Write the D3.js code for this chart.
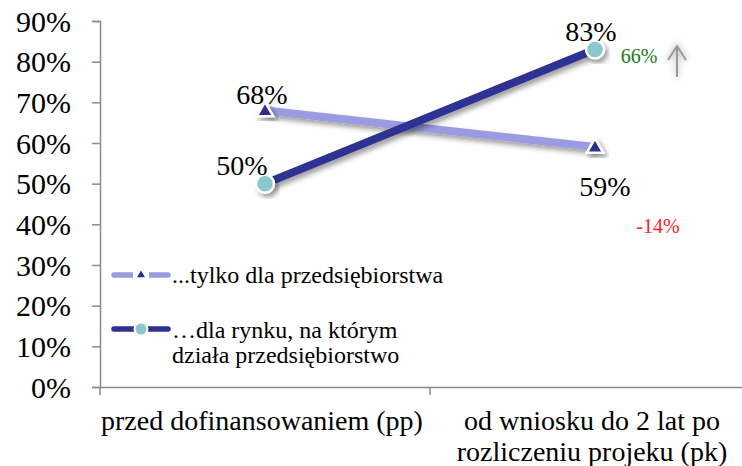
<!DOCTYPE html>
<html>
<head>
<meta charset="utf-8">
<script src="https://cdn.jsdelivr.net/npm/d3@7/dist/d3.min.js"></script>
<style>
  html, body { margin: 0; padding: 0; background: #fff; }
  svg text { font-family: "Liberation Serif", "Times New Roman", serif; }
</style>
</head>
<body>
<svg id="chart" width="742" height="466"></svg>
<script>
// Categories (two measurement periods)
const categories = ["przed dofinansowaniem (pp)", "od wniosku do 2 lat po rozliczeniu projeku (pk)"];
const categoryLines = [["przed dofinansowaniem (pp)"], ["od wniosku do 2 lat po", "rozliczeniu projeku (pk)"]];

// Series values (%)
const onlyCompany = [68, 59];   // ...tylko dla przedsiębiorstwa
const forMarket = [50, 83];     // …dla rynku, na którym działa przedsiębiorstwo

// Legend labels
const legendLabels = [["...tylko dla przedsiębiorstwa"], ["…dla rynku, na którym", "działa przedsiębiorstwo"]];

// Y ticks
const yTicks = [0, 10, 20, 30, 40, 50, 60, 70, 80, 90];

// Change annotations
const changeLabels = ["66%", "-14%"];

const SERIF = "Liberation Serif";
const svg = d3.select("#chart");
const margin = { left: 100, top: 21, bottom: 79 };
const W = 742, H = 466;
const y = d3.scaleLinear().domain([0, 90]).range([H - margin.bottom, margin.top]);
const x = d3.scaleBand().domain(categories).range([margin.left, 760]);

const defs = svg.append("defs");
const sh = defs.append("filter").attr("id", "shadow").attr("x", "-30%").attr("y", "-30%").attr("width", "160%").attr("height", "160%");
sh.append("feDropShadow").attr("dx", 3).attr("dy", 3.5).attr("stdDeviation", 2.5).attr("flood-color", "#000").attr("flood-opacity", 0.38);
const haze = defs.append("filter").attr("id", "haze").attr("x", "-100%").attr("y", "-50%").attr("width", "300%").attr("height", "200%");
haze.append("feGaussianBlur").attr("stdDeviation", 3);

// Y axis
const yAxis = svg.append("g").attr("transform", `translate(${margin.left},0)`)
  .call(d3.axisLeft(y).tickValues(yTicks).tickFormat(d => d + "%").tickSize(8).tickPadding(21));
yAxis.attr("font-family", SERIF);
yAxis.select(".domain").attr("stroke", "#8c8c8c").attr("stroke-width", 1.5);
yAxis.selectAll(".tick line").attr("stroke", "#8c8c8c").attr("stroke-width", 1.5);
yAxis.selectAll(".tick text").attr("fill", "#000").attr("font-size", 30).attr("font-family", SERIF).attr("dy", "0.34em");

// X axis
const xAxis = svg.append("g").attr("transform", `translate(0,${y(0)})`)
  .call(d3.axisBottom(x).tickValues([]).tickSizeOuter(0));
xAxis.select(".domain").attr("stroke", "#8c8c8c").attr("stroke-width", 1.5);
// Band boundary ticks
xAxis.selectAll(".bt").data([x(categories[0]), x(categories[1])]).enter().append("line")
  .attr("x1", d => d).attr("x2", d => d).attr("y1", 0).attr("y2", 8)
  .attr("stroke", "#8c8c8c").attr("stroke-width", 1.5);

// Category labels
categories.forEach((c, i) => {
  const mx = x(c) + x.bandwidth() / 2 - 3;
  const t = svg.append("text").attr("x", mx).attr("y", 430)
    .attr("text-anchor", "middle").attr("font-size", 28).attr("font-family", SERIF).attr("fill", "#000");
  categoryLines[i].forEach((ln, j) => t.append("tspan").attr("x", mx).attr("dy", j ? 31 : 0).text(ln));
});

const cx = c => x(c) + x.bandwidth() / 2;
const line = d3.line().x((d, i) => cx(categories[i])).y(d => y(d));

// Series lines
svg.append("path").datum(onlyCompany).attr("d", line).attr("fill", "none")
  .attr("stroke", "#9b9be0").attr("stroke-width", 8).attr("filter", "url(#shadow)");
svg.append("path").datum(forMarket).attr("d", line).attr("fill", "none")
  .attr("stroke", "#2e3192").attr("stroke-width", 8).attr("filter", "url(#shadow)");

// Markers
const tri = d3.symbol().type(d3.symbolTriangle).size(120);
svg.selectAll(".tri").data(onlyCompany).enter().append("path")
  .attr("d", tri).attr("transform", (d, i) => `translate(${cx(categories[i])},${y(d) + 1})`)
  .attr("fill", "#2e2e8c").attr("stroke", "#fff").attr("stroke-width", 2.5).attr("filter", "url(#shadow)");
svg.selectAll(".dot").data(forMarket).enter().append("circle")
  .attr("cx", (d, i) => cx(categories[i])).attr("cy", d => y(d)).attr("r", 9)
  .attr("fill", "#8bc7cf").attr("stroke", "#fff").attr("stroke-width", 2.5).attr("filter", "url(#shadow)");

// Value labels
const valLabel = (v, i, dx, dyy) => svg.append("text")
  .attr("x", cx(categories[i]) + dx).attr("y", y(v) + dyy)
  .attr("text-anchor", "middle").attr("font-size", 28).attr("font-family", SERIF).attr("fill", "#000").text(v + "%");
valLabel(onlyCompany[0], 0, -3, -6);
valLabel(onlyCompany[1], 1, 10, 49);
valLabel(forMarket[0], 0, -23, -9);
valLabel(forMarket[1], 1, -4, -8);

// Change annotations
svg.append("text").attr("x", 639).attr("y", 63).attr("text-anchor", "middle")
  .attr("font-size", 20).attr("font-family", SERIF).attr("fill", "#1a7a1a").text(changeLabels[0]);
svg.append("text").attr("x", 658).attr("y", 233).attr("text-anchor", "middle")
  .attr("font-size", 20).attr("font-family", SERIF).attr("fill", "#ff2020").text(changeLabels[1]);

// Upward arrow with soft halo
const arrow = svg.append("g");
arrow.append("path").attr("d", "M677,77 L677,46 M668,60 L677,46 L686,60")
  .attr("fill", "none").attr("stroke", "#bbb").attr("stroke-width", 5).attr("filter", "url(#haze)").attr("opacity", 0.6);
arrow.append("path").attr("d", "M677,77 L677,46 M668,60 L677,46 L686,60")
  .attr("fill", "none").attr("stroke", "#9a9a9a").attr("stroke-width", 2);

// Legend
const legend = svg.append("g");
const legendRows = [
  { y: 275, color: "#9b9be0", marker: "tri", ty: 283 },
  { y: 329, color: "#2e3192", marker: "dot", ty: 338 }
];
legendRows.forEach((r, i) => {
  legend.append("line").attr("x1", 114).attr("x2", 168).attr("y1", r.y).attr("y2", r.y)
    .attr("stroke", r.color).attr("stroke-width", 5.5).attr("stroke-linecap", "round");
  if (r.marker === "tri") {
    legend.append("rect").attr("x", 133).attr("y", r.y - 4).attr("width", 16).attr("height", 8).attr("fill", "#fff");
    legend.append("path").attr("d", d3.symbol().type(d3.symbolTriangle).size(50)).attr("transform", `translate(141,${r.y})`)
      .attr("fill", "#2e2e8c").attr("stroke", "#fff").attr("stroke-width", 1.5);
  } else {
    legend.append("circle").attr("cx", 141).attr("cy", r.y).attr("r", 6.5)
      .attr("fill", "#8bc7cf").attr("stroke", "#fff").attr("stroke-width", 2);
  }
  const t = legend.append("text").attr("x", 172).attr("y", r.ty).attr("font-size", 24).attr("font-family", SERIF).attr("fill", "#000");
  legendLabels[i].forEach((ln, j) => t.append("tspan").attr("x", 172).attr("dy", j ? 25 : 0).text(ln));
});
</script>
</body>
</html>
